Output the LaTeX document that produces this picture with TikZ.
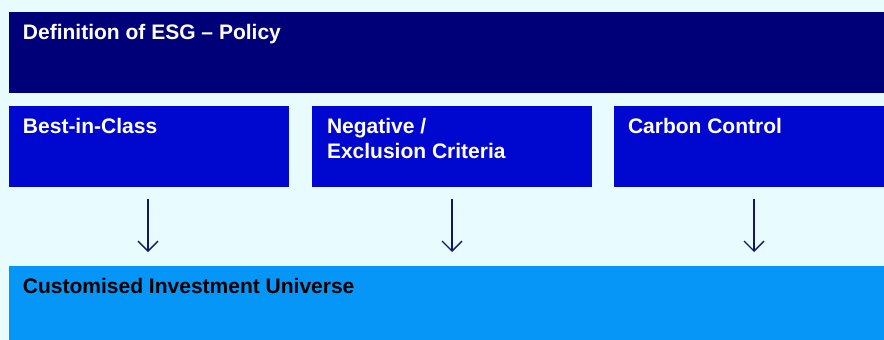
\documentclass[tikz,border=0pt]{standalone}
\usepackage{fontspec}
\setmainfont{Liberation Sans}
\usetikzlibrary{calc,arrows.meta}
\definecolor{bgc}{HTML}{E8FCFF}
\definecolor{topc}{HTML}{000078}
\definecolor{boxc}{HTML}{0008CF}
\definecolor{botc}{HTML}{0596F8}
\definecolor{arrc}{HTML}{14146E}
\tikzset{
  bar/.style={anchor=north west, inner sep=0pt, outer sep=0pt, minimum width=#1},
  topbar/.style={bar=880pt, fill=topc, minimum height=81pt},
  stepbox/.style={bar=280pt, fill=boxc, minimum height=81pt},
  univ/.style={bar=880pt, fill=botc, minimum height=80pt},
  txt/.style={anchor=base west, inner sep=0pt, outer sep=0pt, text=white,
    font=\bfseries\fontsize{21}{25}\selectfont, align=left},
  dtxt/.style={txt, text=black},
  arr/.style={draw=arrc, line width=1.4pt, -{Straight Barb[length=10pt,width=20pt,line width=1.4pt]}}
}
\begin{document}
\begin{tikzpicture}[x=1pt,y=-1pt]
\useasboundingbox (0,0) rectangle (884,340);
\fill[bgc] (0,0) rectangle (884,340);
\begin{scope}
\clip (0,0) rectangle (884,340);
\node[topbar] (p) at (9,12) {};
\node[stepbox] (b1) at (9,106) {};
\node[stepbox] (b2) at (312,106) {};
\node[stepbox] (b3) at (614,106) {};
\node[univ] (u) at (9,266) {};
\end{scope}
\node[txt] (tp) at ($(p.north west)+(14,27)$) {Definition of ESG – Policy};
\node[txt] (t1) at ($(b1.north west)+(14,27)$) {Best-in-Class};
\node[txt] (t2) at ($(b2.north west)+(15,52)$) {Negative /\\Exclusion Criteria};
\node[txt] (t3) at ($(b3.north west)+(14,27)$) {Carbon Control};
\node[dtxt] (tu) at ($(u.north west)+(14,27)$) {Customised Investment Universe};
\coordinate (a1) at ($(b1.south)+(-1,0)$);
\coordinate (a2) at ($(b2.south)+(0,0)$);
\coordinate (a3) at ($(b3.south)+(0,0)$);
\draw[arr] ($(a1)+(0,12)$) -- ($(a1 |- u.north)+(0,-14)$);
\draw[arr] ($(a2)+(0,12)$) -- ($(a2 |- u.north)+(0,-14)$);
\draw[arr] ($(a3)+(0,12)$) -- ($(a3 |- u.north)+(0,-14)$);
\end{tikzpicture}
\end{document}
